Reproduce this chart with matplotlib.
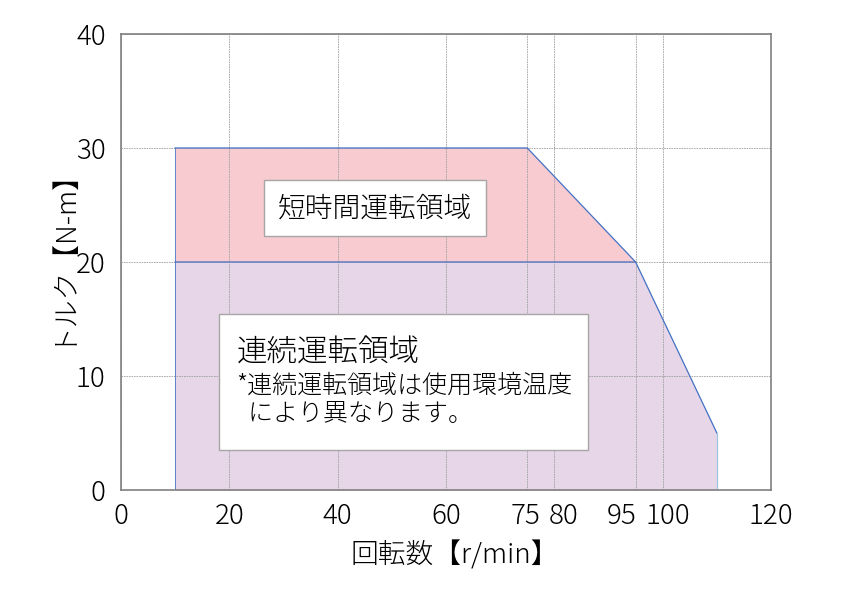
import matplotlib
matplotlib.use("Agg")
import matplotlib.pyplot as plt
from matplotlib.transforms import ScaledTranslation

plt.rcParams['font.family'] = ['Noto Sans CJK JP', 'DejaVu Sans']
plt.rcParams['font.weight'] = 'light'
plt.rcParams['axes.labelweight'] = 'light'

# 短時間運転領域 (upper boundary) and 連続運転領域 (continuous)
short_x = [10, 75, 95]
short_top = [30, 30, 20]
cont_x = [10, 95, 110]
cont_top = [20, 20, 5]

xticks = [0, 20, 40, 60, 75, 80, 95, 100, 120]
yticks = [0, 10, 20, 30, 40]
# label nudges (pixels) so the close ticks stay readable
xtick_shift = {75: -2, 80: 9, 95: -14, 100: 5}

fig = plt.figure(figsize=(8.42, 5.95), dpi=100)
ax = fig.add_axes([0.1437, 0.1765, 0.772, 0.7664])

ax.fill_between(short_x, 0, short_top, color="#f8cbd0", lw=0, zorder=1)
ax.fill_between(cont_x, 0, cont_top, color="#e6d6e8", lw=0, zorder=1.1)
ax.plot(short_x, short_top, color="#4472c4", lw=0.9, zorder=3)
ax.plot(cont_x, cont_top, color="#4472c4", lw=0.9, zorder=3)
ax.plot([cont_x[-1], cont_x[-1]], [0, cont_top[-1]], color="#9dc3e6", lw=0.9, zorder=3)
ax.plot([short_x[0], short_x[0]], [0, short_top[0]], color="#4472c4", lw=0.6, zorder=3)

ax.set_xlim(0, 120)
ax.set_ylim(0, 40)
ax.set_xticks(xticks)
ax.set_yticks(yticks)
ax.set_xticklabels([str(t) for t in xticks])
ax.tick_params(length=0, labelsize=20, colors="#000000")
ax.tick_params(axis="x", pad=9)
ax.tick_params(axis="y", pad=11)
for t, lab in zip(xticks, ax.get_xticklabels()):
    if t in xtick_shift:
        lab.set_transform(lab.get_transform() +
                          ScaledTranslation(xtick_shift[t] / 100, 0, fig.dpi_scale_trans))
ax.grid(True, color="#a0a0a0", lw=0.6, linestyle=(0, (2, 1)), zorder=2)
ax.set_axisbelow(False)
for s in ax.spines.values():
    s.set_color("#808080")
    s.set_linewidth(1.2)
    s.set_zorder(4)

ax.set_xlabel("回転数【r/min】", fontsize=20, labelpad=7)
ax.set_ylabel("トルク【N-m】", fontsize=20, labelpad=2)
ax.xaxis.label.set_x(0.514)
ax.yaxis.label.set_y(0.53)

ax.text(0.391, 0.618, "短時間運転領域", transform=ax.transAxes, fontsize=20,
        ha="center", va="center", zorder=5,
        bbox=dict(boxstyle="square,pad=0.5", fc="white", ec="#a6a6a6", lw=1))

# 連続運転領域 box
ax.add_patch(plt.Rectangle((0.151, 0.088), 0.568, 0.298, transform=ax.transAxes,
                           fc="white", ec="#a6a6a6", lw=1, zorder=5))
ax.text(0.178, 0.302, "連続運転領域", transform=ax.transAxes, fontsize=22,
        ha="left", va="center", zorder=6)
ax.text(0.178, 0.230, "*連続運転領域は使用環境温度", transform=ax.transAxes, fontsize=18,
        ha="left", va="center", zorder=6)
ax.text(0.178, 0.167, "  により異なります。", transform=ax.transAxes, fontsize=18,
        ha="left", va="center", zorder=6)

fig.savefig("out.png", dpi=100)
